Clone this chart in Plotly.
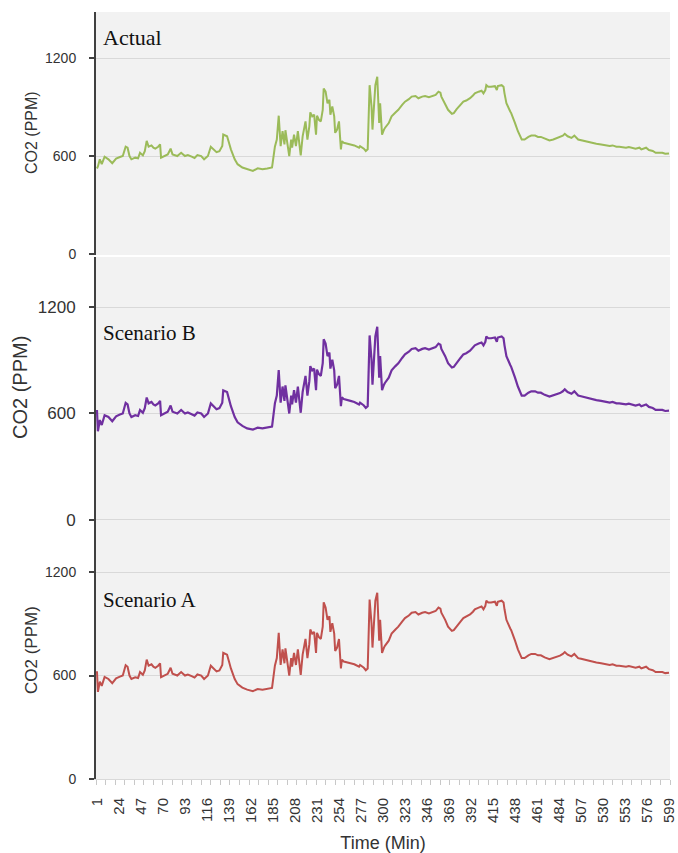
import plotly.graph_objects as go

# ---------------- data ----------------
minutes = [1, 2, 4, 6, 9, 13, 17, 21, 25, 28, 31, 33, 35, 37, 41, 44, 46, 49, 51, 53,
           55, 58, 60, 62, 65, 67, 68, 72, 75, 78, 80, 85, 89, 93, 96, 100, 103, 106, 110, 113,
           117, 120, 123, 126, 129, 132, 133, 137, 139, 141, 145, 148, 153, 158, 164, 169, 174, 179, 184, 187,
           189, 191, 193, 195, 197, 198, 200, 202, 204, 205, 207, 209, 211, 212, 214, 216, 217, 219, 221, 223,
           224, 226, 228, 230, 231, 233, 235, 237, 238, 240, 242, 244, 245, 247, 249, 250, 252, 254, 256, 257,
           259, 263, 266, 270, 273, 275, 276, 280, 282, 284, 286, 288, 289, 291, 292, 294, 296, 297, 299, 301,
           302, 306, 309, 313, 316, 320, 323, 327, 330, 334, 337, 341, 344, 348, 351, 355, 358, 360, 361, 365,
           368, 372, 374, 377, 381, 384, 387, 391, 394, 396, 400, 403, 405, 407, 408, 410, 413, 417, 419, 420,
           424, 426, 427, 429, 433, 434, 438, 441, 445, 448, 452, 455, 459, 462, 465, 469, 474, 478, 481, 485,
           488, 490, 493, 497, 500, 504, 507, 512, 517, 523, 528, 533, 537, 540, 544, 547, 550, 554, 557, 561,
           564, 568, 570, 575, 578, 582, 585, 589, 592, 595, 599]

actual_ppm = [524, 536, 580, 550, 596, 580, 556, 584, 594, 600, 657, 651, 600, 580, 590, 586, 620, 604, 630, 693,
              657, 665, 651, 645, 657, 671, 590, 600, 610, 645, 610, 600, 620, 600, 606, 596, 588, 606, 600, 580,
              600, 657, 641, 624, 630, 661, 732, 721, 681, 641, 580, 550, 530, 519, 509, 525, 519, 524, 530, 657,
              701, 847, 661, 752, 671, 758, 681, 600, 701, 651, 731, 661, 752, 691, 604, 721, 752, 812, 701, 782,
              867, 843, 853, 731, 847, 822, 812, 883, 1014, 994, 923, 944, 853, 903, 843, 742, 762, 812, 641, 691,
              681, 677, 671, 665, 657, 651, 661, 645, 631, 641, 1034, 903, 762, 1004, 1034, 1085, 802, 923, 731, 762,
              772, 802, 843, 867, 883, 913, 933, 948, 964, 968, 954, 964, 968, 960, 968, 974, 994, 988, 964, 923,
              883, 859, 863, 887, 913, 933, 940, 954, 970, 984, 994, 1000, 984, 1004, 1034, 1024, 1024, 1028, 1004, 1028,
              1034, 1024, 984, 923, 873, 863, 802, 752, 701, 701, 717, 725, 725, 717, 717, 705, 695, 701, 707, 715,
              725, 736, 721, 711, 725, 701, 697, 689, 681, 675, 671, 665, 661, 665, 657, 657, 653, 651, 655, 649,
              645, 651, 641, 651, 637, 631, 620, 620, 620, 614, 616]

scenario_b_ppm = [620, 500, 563, 535, 590, 580, 556, 584, 594, 600, 660, 651, 600, 580, 590, 586, 620, 604, 630, 690,
                  657, 665, 651, 645, 657, 671, 590, 600, 610, 645, 610, 600, 620, 600, 606, 596, 588, 606, 600, 580,
                  600, 657, 641, 624, 630, 661, 730, 721, 681, 641, 580, 550, 530, 516, 509, 520, 516, 520, 526, 657,
                  701, 845, 661, 752, 671, 758, 681, 600, 701, 651, 731, 661, 752, 691, 604, 721, 752, 812, 701, 782,
                  867, 843, 853, 731, 847, 822, 812, 883, 1018, 994, 923, 944, 853, 903, 843, 742, 762, 812, 641, 691,
                  681, 677, 671, 665, 657, 651, 661, 645, 631, 641, 1040, 903, 762, 1004, 1034, 1089, 802, 923, 731, 762,
                  772, 802, 843, 867, 883, 913, 933, 948, 964, 968, 954, 964, 968, 960, 968, 974, 994, 988, 964, 923,
                  883, 859, 863, 887, 913, 933, 940, 954, 970, 984, 994, 1000, 984, 1004, 1034, 1024, 1024, 1028, 1004, 1028,
                  1034, 1024, 984, 923, 873, 863, 802, 752, 701, 701, 717, 725, 725, 717, 717, 705, 695, 701, 707, 715,
                  725, 736, 721, 711, 725, 701, 697, 689, 681, 675, 671, 665, 661, 665, 657, 657, 653, 651, 655, 649,
                  645, 651, 641, 651, 637, 631, 620, 620, 620, 614, 616]

scenario_a_ppm = [625, 505, 565, 540, 592, 580, 556, 584, 594, 600, 660, 651, 600, 580, 590, 586, 620, 604, 630, 692,
                  657, 665, 651, 645, 657, 671, 590, 600, 610, 645, 610, 600, 620, 600, 606, 596, 588, 606, 600, 580,
                  600, 657, 641, 624, 630, 661, 732, 721, 681, 641, 580, 550, 530, 518, 509, 522, 518, 522, 528, 657,
                  701, 848, 661, 752, 671, 758, 681, 600, 701, 651, 731, 661, 752, 691, 604, 721, 752, 812, 701, 782,
                  867, 843, 853, 731, 847, 822, 812, 883, 1025, 994, 923, 944, 853, 903, 843, 742, 762, 812, 641, 691,
                  681, 677, 671, 665, 657, 651, 661, 645, 631, 641, 1040, 903, 762, 1004, 1034, 1080, 802, 923, 731, 762,
                  772, 802, 843, 867, 883, 913, 933, 948, 964, 968, 954, 964, 968, 960, 968, 974, 994, 988, 964, 923,
                  883, 859, 863, 887, 913, 933, 940, 954, 970, 984, 994, 1000, 984, 1004, 1034, 1024, 1024, 1028, 1004, 1028,
                  1034, 1024, 984, 923, 873, 863, 802, 752, 701, 701, 717, 725, 725, 717, 717, 705, 695, 701, 707, 715,
                  725, 736, 721, 711, 725, 701, 697, 689, 681, 675, 671, 665, 661, 665, 657, 657, 653, 651, 655, 649,
                  645, 651, 641, 651, 637, 631, 620, 620, 620, 614, 616]

x_tick_labels = [1, 24, 47, 70, 93, 116, 139, 162, 185, 208, 231, 254, 277, 300, 323, 346, 369,
                 392, 415, 438, 461, 484, 507, 530, 553, 576, 599]
y_ticks = [0, 600, 1200]
panel_names = ["Actual", "Scenario B", "Scenario A"]

# ---------------- layout helpers ----------------
W, H = 678, 853


def fx(px):
    return px / W


def fy(px):
    return 1 - px / H


X0, X1 = 96, 670
GRID = "#D9D9D9"
AXIS = "#404040"
SANS = "Liberation Sans, Arial, sans-serif"
SERIF = "Liberation Serif, Times New Roman, serif"

fig = go.Figure()
fig.add_trace(go.Scatter(x=minutes, y=actual_ppm, mode="lines", xaxis="x", yaxis="y",
                         line=dict(color="#9BBB59", width=2), name="Actual"))
fig.add_trace(go.Scatter(x=minutes, y=scenario_b_ppm, mode="lines", xaxis="x2", yaxis="y2",
                         line=dict(color="#7030A0", width=2.2), name="Scenario B"))
fig.add_trace(go.Scatter(x=minutes, y=scenario_a_ppm, mode="lines", xaxis="x3", yaxis="y3",
                         line=dict(color="#C0504D", width=2), name="Scenario A"))

common_x = dict(domain=[fx(X0), fx(X1)], range=[0, 600], showgrid=False, zeroline=False,
                fixedrange=True, automargin=False)

# panels: (top px, bottom px, y range, tick font size)
panels = [
    (12, 255, [-6, 1482], 14),
    (257, 546, [-147, 1482], 17),
    (546, 779, [0, 1351], 14),
]

layout = dict(width=W, height=H, margin=dict(l=0, r=0, t=0, b=0, autoexpand=False),
              paper_bgcolor="white", plot_bgcolor="#F2F2F2", showlegend=False)

for i, (top, bot, yr, fs) in enumerate(panels):
    sx = "" if i == 0 else str(i + 1)
    xa = dict(common_x, anchor="y" + sx)
    if i < 2:
        xa.update(showticklabels=False, ticks="", showline=False)
    else:
        xa.update(tickmode="array", tickvals=x_tick_labels,
                  ticktext=[str(v) for v in x_tick_labels], tickangle=-90,
                  ticks="", showline=True, linecolor=GRID, linewidth=1,
                  ticklabelstandoff=12, ticklabeloverflow="allow",
                  tickfont=dict(family=SANS, size=15, color="#333333"),
                  minor=dict(ticks="outside", tickmode="linear", tick0=0, dtick=10,
                             ticklen=5, tickcolor="#C8C8C8", tickwidth=1),
                  title=dict(text="Time (Min)", font=dict(family=SANS, size=18, color="#333333"),
                             standoff=16))
    ya = dict(domain=[fy(bot), fy(top)], range=yr, anchor="x" + sx, automargin=False,
              tickmode="array", tickvals=y_ticks, ticktext=[str(v) for v in y_ticks],
              showgrid=True, gridcolor=GRID, gridwidth=1.3, zeroline=False,
              showline=True, linecolor=AXIS, linewidth=2,
              ticks="outside", ticklen=5, tickcolor=AXIS, tickwidth=1.5,
              ticklabelstandoff=10,
              tickfont=dict(family=SANS, size=fs, color="#333333"), fixedrange=True)
    layout["xaxis" + sx] = xa
    layout["yaxis" + sx] = ya

fig.update_layout(**layout)

# y axis titles
for (xc, yc, fs) in [(31, 133, 16), (20, 388, 20), (31, 650, 17)]:
    fig.add_annotation(text="CO2 (PPM)", x=fx(xc), y=fy(yc), xref="paper", yref="paper",
                       textangle=-90, showarrow=False, xanchor="center", yanchor="middle",
                       font=dict(family=SANS, size=fs, color="#333333"))

# panel labels
for name, yc, fs in zip(panel_names, [37, 333, 600], [22, 21, 21]):
    fig.add_annotation(text=name, x=fx(101), y=fy(yc), xref="paper", yref="paper",
                       showarrow=False, xanchor="left", yanchor="middle",
                       font=dict(family=SERIF, size=fs, color="#111111"))

fig.write_html("out.html")
